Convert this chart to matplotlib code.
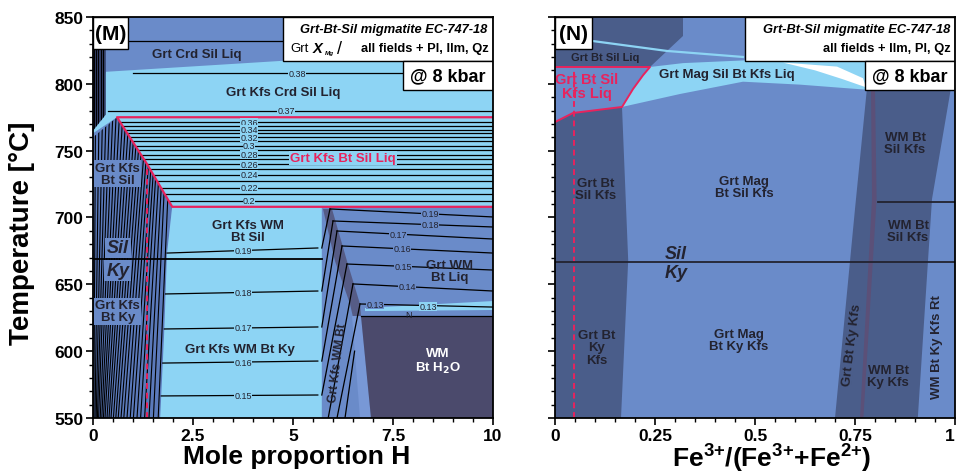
import numpy as np
from matplotlib import pyplot as plt
from matplotlib.patches import Polygon, Rectangle
from matplotlib.ticker import MultipleLocator

plt.rcParams['font.family'] = ['Liberation Sans', 'DejaVu Sans']
plt.rcParams['font.weight'] = 'bold'

NARROW = ['Liberation Sans Narrow', 'Liberation Sans', 'DejaVu Sans']

LIGHT = '#8dd4f4'
MID = '#6a8bc9'
STRIPE = '#5b7abb'
DARK = '#4a5d8a'
WMCOL = '#4b4a6c'
PURPLE = '#5b5078'
RED = '#e8235d'
INK = '#232330'

t_ticks = [550, 600, 650, 700, 750, 800, 850]

# ---------- (M) T-X section against mole proportion H ----------
m_xticks = [0, 2.5, 5, 7.5, 10]
m_xlabels = ['0', '2.5', '5', '7.5', '10']

# field outlines as (H, T)
m_crd = [(0.32, 850), (10, 850), (10, 827), (0.32, 809)]
m_liq = [(0.32, 809), (10, 827), (10, 708), (1.98, 708), (1.35, 740),
         (0.6, 775), (0, 763), (0, 777)]
m_topleft = [(0, 850), (0.32, 850), (0.32, 777), (0, 765)]
m_bt = [(0, 550), (1.68, 550), (1.78, 614), (1.85, 673), (1.98, 708),
        (1.35, 740), (0.6, 775), (0, 760)]
m_wm = [(1.68, 550), (1.78, 614), (1.85, 673), (1.98, 708), (5.72, 708), (5.72, 550)]
m_wmliq = [(5.72, 550), (5.72, 708), (10, 708), (10, 550)]
m_shade = [(5.75, 706.4), (6.05, 667.4), (6.425, 635.3), (6.6, 612),
           (6.7, 626.3), (6.675, 635.3), (6.35, 667.4), (5.975, 706.4)]
m_sliver = [(6.8, 632.3), (10, 637.5), (10, 630.8), (6.8, 630)]
m_pale = [(6.475, 626.3), (6.7, 626.3), (6.95, 550), (6.675, 550)]
m_h2o = [(6.7, 626.3), (10, 626.3), (10, 550), (6.95, 550)]
m_red_edge = [(10, 775), (0.6, 775), (1.35, 740), (1.98, 708), (10, 708)]
m_sample_H = 1.35
m_silky_T = 668.9

# Grt XMg isopleths in the Grt Kfs Bt Sil Liq field
m_liq_iso = [0.36, 0.35, 0.34, 0.33, 0.32, 0.31, 0.30, 0.29, 0.28,
             0.27, 0.26, 0.25, 0.24, 0.23, 0.22, 0.21, 0.20]
m_liq_iso_T = [771.2, 768.7, 765.7, 763.0, 760.0, 757.0, 753.8, 750.7, 747.0,
               743.8, 739.8, 736.3, 732.1, 727.3, 722.1, 717.6, 712.6]

# isopleths in Grt Kfs WM Bt Sil/Ky: T at left and right end
m_wm_iso = [0.19, 0.18, 0.17, 0.16, 0.15]
m_wm_iso_T0 = [673.4, 642.8, 616.6, 591.1, 566.5]
m_wm_iso_T1 = [677.2, 645.0, 618.1, 592.6, 567.2]

# isopleths in Grt WM Bt Liq
m_wl_iso = [0.19, 0.18, 0.17, 0.16, 0.15, 0.14, 0.13]
m_wl_H0 = [5.925, 6.0, 6.1, 6.225, 6.35, 6.5, 6.675]
m_wl_T0 = [706.4, 697.4, 689.9, 678.7, 665.2, 650.3, 635.3]
m_wl_T1 = [700.4, 692.9, 683.9, 673.4, 660.7, 645.0, 633.0]
m_wl_labH = [8.425, 8.425, 7.625, 7.725, 7.75, 7.85, 7.05]

# isopleths crossing the narrow Grt Kfs WM Bt field (lower end)
m_narrow_lo = [(5.72, 677.2), (5.72, 645.0), (5.72, 618.1), (5.72, 592.6),
               (5.72, 567.2), (5.88, 550), (6.1, 550)]

# steep isopleths of the Grt Kfs Bt field: H at 550 and at 708 C
m_bt_lo = [0.02, 0.05, 0.08, 0.11, 0.14, 0.18, 0.22, 0.26, 0.30, 0.35, 0.40, 0.45, 0.51,
           0.57, 0.63, 0.70, 0.77, 0.85, 0.93, 1.01, 1.10, 1.19, 1.29, 1.40, 1.51, 1.63]
m_bt_hi = [0.05, 0.12, 0.19, 0.26, 0.33, 0.40, 0.47, 0.54, 0.61, 0.68, 0.75, 0.82, 0.89,
           0.96, 1.03, 1.10, 1.17, 1.24, 1.31, 1.38, 1.45, 1.52, 1.60, 1.68, 1.76, 1.86]

# ---------- (N) T-X section against Fe3+/(Fe3+ + Fe2+) ----------
n_xticks = [0, 0.25, 0.5, 0.75, 1]
n_xlabels = ['0', '0.25', '0.5', '0.75', '1']

n_dark_left = [(0, 771.4), (0.045, 778.2), (0.1675, 782.7), (0.183, 668), (0.165, 550), (0, 550)]
n_dark_top = [(0, 850), (0.32, 850), (0.32, 835.8), (0.28, 824.6), (0.2375, 812.6), (0, 812.6)]
n_red_edge = [(0, 771.4), (0.045, 778.2), (0.1675, 782.7), (0.195, 796.1),
              (0.22, 806.4), (0.2375, 812.6), (0, 812.6)]
n_liq_band = [(0.2375, 812.6), (0.32, 815.5), (0.47, 817.5), (0.6, 818.5), (0.7125, 818.6),
              (0.78, 817.1), (0.78, 795.6), (0.7125, 797.1), (0.6125, 799.4), (0.47, 801.6),
              (0.3125, 792.4), (0.1675, 782.7), (0.195, 796.1), (0.22, 806.4)]
n_white = [(0.57, 815.9), (0.705, 812.9), (0.77, 804.2), (0.7775, 797.4), (0.72, 803.4), (0.65, 810.1)]
n_pale_line = [(0.095, 832), (0.28, 824.6), (0.47, 820.1)]
n_dark_right = [(0.78, 797), (0.99, 797), (0.9425, 713.8), (0.907, 550), (0.70, 550), (0.75, 706.4)]
n_purple = [(0.79, 796), (0.80, 796), (0.804, 713.8), (0.771, 550), (0.7625, 550), (0.7925, 713.8)]
n_wm_line = [(0.8075, 711.6), (1.0, 711.6)]
n_sample_x = 0.048
n_silky_T = 666.7


def fill(ax, pts, color, z=1):
    p = Polygon(pts, closed=True, fc=color, ec='none', zorder=z)
    ax.add_patch(p)
    return p


def iso_label(ax, x, y, s, fc):
    ax.text(x, y, s, fontsize=6.5, fontweight='normal', ha='center', va='center',
            color=INK, zorder=6,
            bbox=dict(boxstyle='square,pad=0.02', fc=fc, ec='none'))


def field_label(ax, x, y, s, color=INK, fs=9.5, bg=None, **kw):
    box = dict(boxstyle='square,pad=0.1', fc=bg, ec='none') if bg else None
    ax.text(x, y, s, fontsize=fs, ha='center', va='center', color=color,
            linespacing=1.05, zorder=7, bbox=box, **kw)


def boxes(ax, x0, x1, tag, tag_x1, line2_parts):
    ax.add_patch(Rectangle((x0, 817.1), x1 - x0, 32.9, fc='white', ec='black', lw=1, zorder=8))
    ax.text(x1 - (x1 - x0) * 0.025, 840.8, 'Grt-Bt-Sil migmatite EC-747-18', fontsize=9.3,
            style='italic', ha='right', va='center', zorder=9)
    for x, s, kw in line2_parts:
        kw = dict(kw)
        y = kw.pop('y', 826.8)
        ax.text(x, y, s, va='center', zorder=9, **kw)
    bx0 = x0 + (x1 - x0) * 0.57
    ax.add_patch(Rectangle((bx0, 795.5), x1 - bx0, 21.6, fc='white', ec='black', lw=1, zorder=8))
    ax.text((bx0 + x1) / 2, 806.3, '@ 8 kbar', fontsize=13, ha='center', va='center', zorder=9)
    ax.add_patch(Rectangle((0, 826), tag_x1, 24, fc='white', ec='black', lw=1, zorder=8))
    ax.text(tag_x1 / 2, 838, tag, fontsize=15, ha='center', va='center', zorder=9)


def style_axes(ax, xticks, xlabels, xminor, show_y):
    ax.set_ylim(550, 850)
    ax.set_xticks(xticks)
    ax.set_xticklabels(xlabels, family=NARROW, fontsize=12.5)
    ax.xaxis.set_minor_locator(MultipleLocator(xminor))
    ax.set_yticks(t_ticks)
    ax.yaxis.set_minor_locator(MultipleLocator(10))
    if show_y:
        ax.set_yticklabels([str(t) for t in t_ticks], family=NARROW, fontsize=12.5)
    else:
        ax.set_yticklabels([])
    ax.tick_params(which='major', direction='out', length=5, width=1.2, pad=2)
    ax.tick_params(which='minor', direction='out', length=3, width=1)
    for s in ax.spines.values():
        s.set_linewidth(1.3)
        s.set_zorder(10)


fig = plt.figure(figsize=(9.57, 4.77), dpi=100)
axM = fig.add_axes([93 / 957, 58 / 477, 400 / 957, 401 / 477])
axN = fig.add_axes([555 / 957, 58 / 477, 400 / 957, 401 / 477])

# ---------------- panel M ----------------
ax = axM
ax.set_xlim(0, 10)
ax.set_facecolor(MID)
fill(ax, m_crd, MID)
fill(ax, m_liq, LIGHT)
tl = fill(ax, m_topleft, '#34406a', 2)
for h in [0.03, 0.08, 0.13, 0.19, 0.25]:
    ln, = ax.plot([h, h], [760, 850], color='black', lw=0.8, zorder=3)
    ln.set_clip_path(tl)
bt = fill(ax, m_bt, STRIPE, 2)
for lo, hi in zip(m_bt_lo, m_bt_hi):
    slope = (hi - lo) / (708 - 550)
    ln, = ax.plot([lo, lo + slope * 240], [550, 790], color='black', lw=0.8, zorder=3)
    ln.set_clip_path(bt)
fill(ax, m_wmliq, MID)
fill(ax, m_wm, LIGHT, 2)
fill(ax, m_shade, '#565c86', 2)
fill(ax, m_sliver, LIGHT, 2)
fill(ax, m_pale, '#7898d6', 2)
fill(ax, m_h2o, WMCOL, 2)

# isopleths in the melt field
diag_T = [708, 740, 775]
diag_H = [1.98, 1.35, 0.6]
for v, t in zip(m_liq_iso, m_liq_iso_T):
    h0 = np.interp(t, diag_T, diag_H)
    ax.plot([h0, 10], [t, t], color='black', lw=0.9, zorder=4)
    if round(v * 100) % 2 == 0:
        iso_label(ax, 3.9, t, f'{v:g}', LIGHT)
ax.plot([0.375, 10], [779.7, 779.7], color='black', lw=0.9, zorder=4)
iso_label(ax, 4.83, 779.7, '0.37', LIGHT)
ax.plot([1.0, 10], [808.1, 808.1], color='black', lw=0.9, zorder=4)
iso_label(ax, 5.1, 808.1, '0.38', LIGHT)
ax.plot([0.9, 4.75], [832, 832], color='black', lw=0.9, zorder=4)

for v, t0, t1 in zip(m_wm_iso, m_wm_iso_T0, m_wm_iso_T1):
    h0 = np.interp(t0, [550, 614, 673, 708], [1.68, 1.78, 1.85, 1.98])
    ax.plot([h0, 5.62], [t0, t1], color='black', lw=0.9, zorder=4)
    iso_label(ax, 3.75, t0 + (t1 - t0) * 0.5, f'{v:g}', LIGHT)

for v, h0, t0, t1, lh in zip(m_wl_iso, m_wl_H0, m_wl_T0, m_wl_T1, m_wl_labH):
    ax.plot([h0, 10], [t0, t1], color='black', lw=0.9, zorder=4)
    lt = t0 + (t1 - t0) * (lh - h0) / (10 - h0)
    iso_label(ax, lh, lt, f'{v:g}', MID)
iso_label(ax, 8.375, 633.6, '0.13', LIGHT)

for (h_lo, t_lo), h_hi, t_hi in zip(m_narrow_lo, m_wl_H0, m_wl_T0):
    ax.plot([h_lo, h_hi], [t_lo, t_hi], color='black', lw=0.9, zorder=4)
ax.plot([6.3, 6.54], [550, 600], color='black', lw=0.9, zorder=4)
ax.plot([6.7, 10], [626.3, 626.3], color='black', lw=0.9, zorder=4)
ax.text(7.9, 627.3, 'N', fontsize=6.5, fontweight='normal', ha='center', va='center',
        color=INK, zorder=6)

ax.plot(*zip(*m_red_edge), color=RED, lw=1.6, zorder=5)
ax.plot([m_sample_H, m_sample_H], [550, 740], color=RED, lw=1.4, ls=(0, (3, 2)), zorder=5)
ax.plot([0, 5.72], [m_silky_T, m_silky_T], color='black', lw=1.3, zorder=5)

field_label(ax, 2.6, 822.3, 'Grt Crd Sil Liq')
field_label(ax, 4.75, 793.9, 'Grt Kfs Crd Sil Liq')
field_label(ax, 6.25, 744.6, 'Grt Kfs Bt Sil Liq', color=RED, bg=LIGHT)
field_label(ax, 0.62, 732.6, 'Grt Kfs\nBt Sil', bg=MID)
field_label(ax, 0.62, 677.2, 'Sil', fs=13, style='italic', bg=MID)
field_label(ax, 0.62, 660.2, 'Ky', fs=13, style='italic', bg=MID)
field_label(ax, 0.62, 630, 'Grt Kfs\nBt Ky', bg=MID)
field_label(ax, 3.875, 689.9, 'Grt Kfs WM\nBt Sil')
field_label(ax, 3.675, 601.6, 'Grt Kfs WM Bt Ky')
field_label(ax, 8.925, 660, 'Grt WM\nBt Liq')
field_label(ax, 8.625, 592.6, 'WM\nBt H$_2$O', color='white')
field_label(ax, 6.125, 591.9, 'Grt Kfs WM Bt', fs=8.5, rotation=83)

boxes(ax, 4.75, 10, '(M)', 0.875,
      [(4.925, 'Grt', dict(fontsize=9.5, fontweight='normal', ha='left')),
       (5.5, 'X', dict(fontsize=10.5, style='italic', ha='left')),
       (5.8, 'Mg', dict(fontsize=4.5, style='italic', ha='left', y=823.5)),
       (6.1, '/', dict(fontsize=13, fontweight='normal', ha='left')),
       (9.9, 'all fields + Pl, Ilm, Qz', dict(fontsize=9.3, ha='right'))])
style_axes(ax, m_xticks, m_xlabels, 0.5, True)

# ---------------- panel N ----------------
ax = axN
ax.set_xlim(0, 1)
ax.set_facecolor(MID)
fill(ax, n_dark_left, DARK)
fill(ax, n_dark_top, DARK)
fill(ax, n_liq_band, LIGHT)
fill(ax, n_white, 'white', 2)
ax.plot(*zip(*n_pale_line), color=LIGHT, lw=1.6, zorder=2)
fill(ax, n_dark_right, DARK)
fill(ax, n_purple, PURPLE, 2)
ax.plot(*zip(*n_wm_line), color=INK, lw=1.3, zorder=4)
ax.plot(*zip(*n_red_edge), color=RED, lw=1.4, zorder=5)
ax.plot([n_sample_x, n_sample_x], [550, 812.6], color=RED, lw=1.4, ls=(0, (3, 2)), zorder=5)
ax.plot([0, 1], [n_silky_T, n_silky_T], color=INK, lw=1.3, zorder=5)

field_label(ax, 0.125, 820.1, 'Grt Bt Sil Liq', fs=8)
field_label(ax, 0.08, 798.4, 'Grt Bt Sil\nKfs Liq', color=RED, fs=10.5)
field_label(ax, 0.43, 807.4, 'Grt Mag Sil Bt Kfs Liq')
field_label(ax, 0.1025, 721.3, 'Grt Bt\nSil Kfs')
field_label(ax, 0.4725, 722.8, 'Grt Mag\nBt Sil Kfs')
field_label(ax, 0.875, 755.7, 'WM Bt\nSil Kfs')
field_label(ax, 0.8825, 690, 'WM Bt\nSil Kfs')
field_label(ax, 0.3025, 673.4, 'Sil', fs=13, style='italic')
field_label(ax, 0.3025, 658.5, 'Ky', fs=13, style='italic')
field_label(ax, 0.105, 603, 'Grt Bt\nKy\nKfs')
field_label(ax, 0.46, 608.4, 'Grt Mag\nBt Ky Kfs')
field_label(ax, 0.7425, 605.4, 'Grt Bt Ky Kfs', rotation=83)
field_label(ax, 0.8325, 581.4, 'WM Bt\nKy Kfs')
field_label(ax, 0.955, 603.9, 'WM Bt Ky Kfs Rt', rotation=90)

boxes(ax, 0.475, 1.0, '(N)', 0.0925,
      [(0.99, 'all fields + Ilm, Pl, Qz', dict(fontsize=9.3, ha='right'))])
style_axes(ax, n_xticks, n_xlabels, 0.05, False)
ax.get_xticklabels()[-1].set_ha('right')

fig.text(22 / 957, 1 - 233 / 477, 'Temperature [°C]', rotation=90, ha='center', va='center',
         fontsize=20, family=NARROW)
fig.text(297 / 957, 1 - 457 / 477, 'Mole proportion H', ha='center', va='center',
         fontsize=19, family=NARROW)
fe = r'$\mathregular{Fe^{3{+}}/(Fe^{3{+}}{+}Fe^{2{+}})}$'
fig.text(772 / 957, 1 - 459 / 477, fe, ha='center', va='center', fontsize=19, family=NARROW)

fig.savefig('out.png', dpi=100)
